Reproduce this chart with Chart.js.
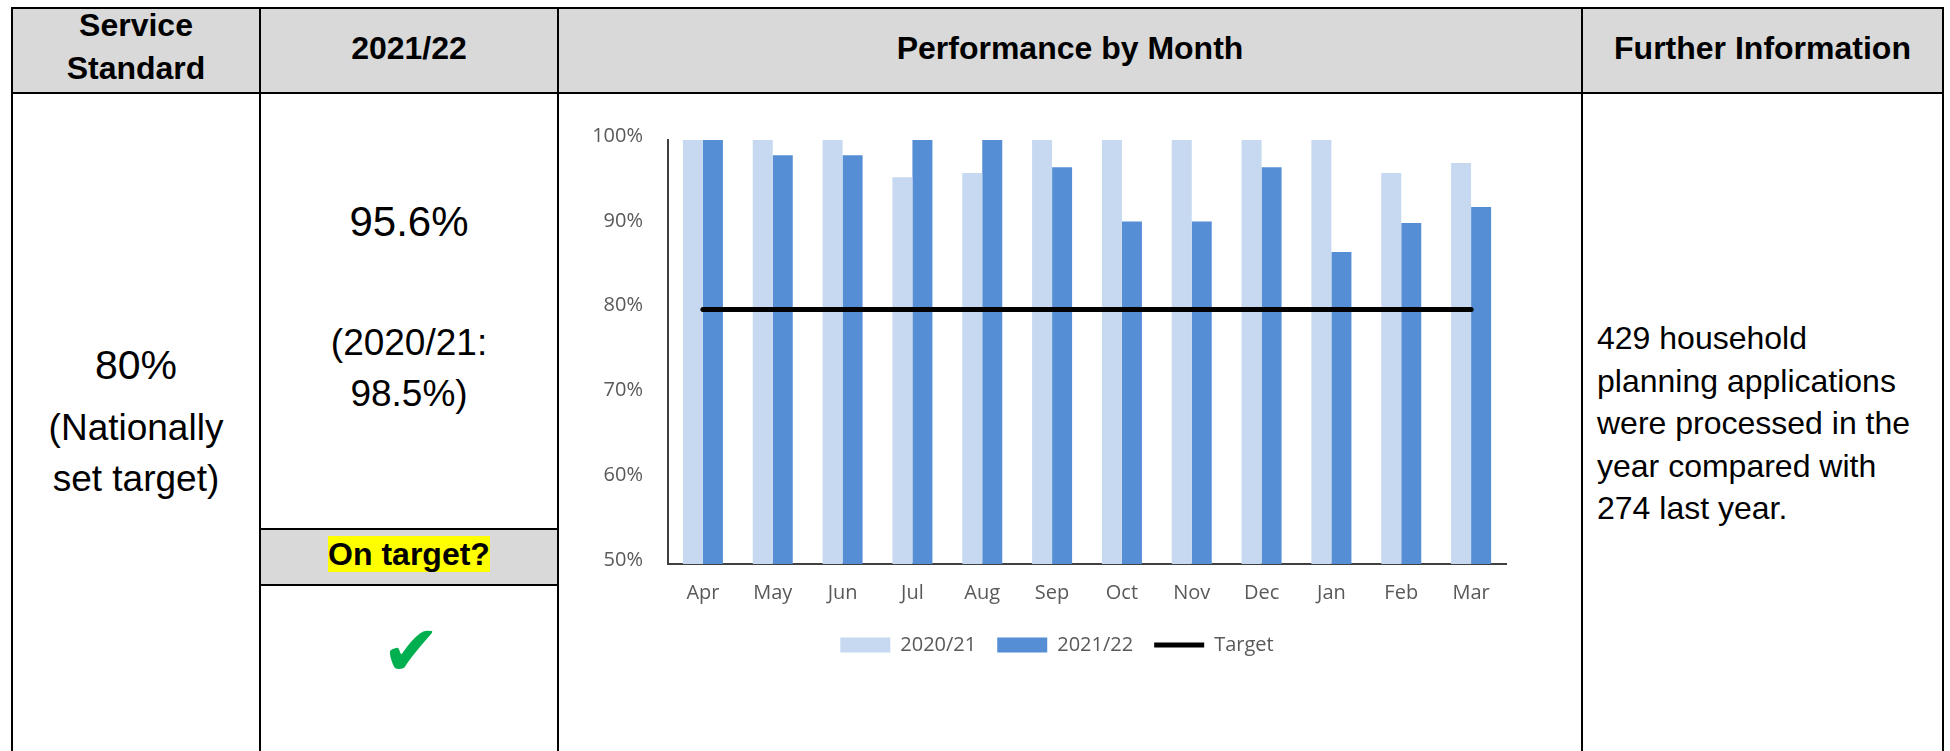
<!DOCTYPE html>
<html>
<head>
<meta charset="utf-8">
<script src="https://cdn.jsdelivr.net/npm/chart.js@4.4.1/dist/chart.umd.min.js"></script>
<style>
  html, body { margin: 0; padding: 0; background: #fff; }
  body { width: 1950px; height: 751px; position: relative; overflow: hidden;
         font-family: "Liberation Sans", Arial, sans-serif; color: #000; }
  .hline { position: absolute; height: 2px; background: #000; }
  .vline { position: absolute; width: 2px; background: #000; }
  .shade { position: absolute; background: #d9d9d9; }
  .txt { position: absolute; text-align: center; white-space: nowrap; }
  .hd { font-weight: bold; font-size: 32px; line-height: 43.3px; }
  .big { font-size: 41px; line-height: 41px; }
  .mid { font-size: 37px; line-height: 51px; }
  #chartBox { position: absolute; left: 560px; top: 95px; width: 1020px; height: 570px; }
</style>
</head>
<body>
<!-- table shading -->
<div class="shade" style="left:12px; top:8px; width:1931px; height:85px"></div>
<div class="shade" style="left:260px; top:529px; width:298px; height:56px"></div>

<!-- table rules -->
<div class="hline" style="left:11px; top:7px; width:1933px"></div>
<div class="hline" style="left:11px; top:92px; width:1933px"></div>
<div class="hline" style="left:259px; top:528px; width:300px"></div>
<div class="hline" style="left:259px; top:584px; width:300px"></div>
<div class="vline" style="left:11px; top:7px; height:744px"></div>
<div class="vline" style="left:259px; top:7px; height:744px"></div>
<div class="vline" style="left:557px; top:7px; height:744px"></div>
<div class="vline" style="left:1581px; top:7px; height:744px"></div>
<div class="vline" style="left:1942px; top:7px; height:744px"></div>

<!-- header -->
<div class="txt hd" style="left:12px; width:248px; top:4px">Service<br>Standard</div>
<div class="txt hd" style="left:260px; width:298px; top:27.3px">2021/22</div>
<div class="txt hd" style="left:558px; width:1024px; top:27.3px">Performance by Month</div>
<div class="txt hd" style="left:1582px; width:361px; top:27.3px">Further Information</div>

<!-- column 1 -->
<div class="txt big" style="left:12px; width:248px; top:345px">80%</div>
<div class="txt mid" style="left:12px; width:248px; top:401.7px">(Nationally<br>set target)</div>

<!-- column 2 -->
<div class="txt big" style="left:260px; width:298px; top:201px; font-size:42px; line-height:42px">95.6%</div>
<div class="txt mid" style="left:260px; width:298px; top:316.7px">(2020/21:<br>98.5%)</div>
<div class="txt" style="left:260px; width:298px; top:536px; font-weight:bold; font-size:32px; line-height:36px">
  <span style="background:#ffff00">On target?</span></div>
<div class="txt" style="left:262px; width:298px; top:616px; font-family:'DejaVu Sans'; font-size:70px; line-height:70px; color:#00b050">✔</div>

<!-- column 4 -->
<div class="txt" style="left:1597px; top:317.3px; text-align:left; font-size:32px; line-height:42.5px">429 household<br>planning applications<br>were processed in the<br>year compared with<br>274 last year.</div>

<!-- chart -->
<div id="chartBox"><canvas id="perf-chart" width="1020" height="570"></canvas></div>

<script>
const months = ['Apr', 'May', 'Jun', 'Jul', 'Aug', 'Sep', 'Oct', 'Nov', 'Dec', 'Jan', 'Feb', 'Mar'];
const prevYear = [100, 100, 100, 95.6, 96.1, 100, 100, 100, 100, 100, 96.1, 97.3];   // 2020/21
const thisYear = [100, 98.2, 98.2, 100, 100, 96.8, 90.4, 90.4, 96.8, 86.8, 90.2, 92.1]; // 2021/22
const target = [80, 80, 80, 80, 80, 80, 80, 80, 80, 80, 80, 80];
const yTicks = [50, 60, 70, 80, 90, 100];

const labelGrey = '#595959';
const ctx = document.getElementById('perf-chart').getContext('2d');

// nudge the legend row so it sits centred under the plot like the original
const legendShift = {
  id: 'legendShift',
  afterLayout(chart) {
    chart.legend.left += 9;
    chart.legend.right += 9;
  }
};

const chart = new Chart(ctx, {
  type: 'bar',
  data: {
    labels: months,
    datasets: [{
      label: '2020/21',
      data: prevYear,
      backgroundColor: '#c6d9f1',
      borderWidth: 0,
      pointStyle: 'rect',
      order: 1
    }, {
      label: '2021/22',
      data: thisYear,
      backgroundColor: '#558ed5',
      borderWidth: 0,
      pointStyle: 'rect',
      order: 1
    }, {
      type: 'line',
      label: 'Target',
      data: target,
      borderColor: '#000',
      backgroundColor: '#000',
      borderWidth: 5,
      borderCapStyle: 'round',
      pointRadius: 0,
      pointStyle: 'line',
      order: 0
    }]
  },
  options: {
    responsive: false,
    animation: false,
    devicePixelRatio: 1,
    categoryPercentage: 0.573,
    barPercentage: 1,
    layout: { padding: { left: 30, right: 74, top: 45, bottom: 0 } },
    font: { family: "'Open Sans'" },
    plugins: {
      tooltip: { enabled: false },
      legend: {
        position: 'bottom',
        labels: {
          usePointStyle: true,
          pointStyleWidth: 50,
          boxHeight: 15,
          padding: 21,
          color: labelGrey,
          font: { family: "'Open Sans'", size: 20 },
          sort: (a, b) => a.datasetIndex - b.datasetIndex
        }
      }
    },
    scales: {
      x: {
        grid: { display: false, drawTicks: false },
        border: { display: true, color: '#404040', width: 2 },
        ticks: { color: labelGrey, padding: 17, font: { family: "'Open Sans'", size: 20 } },
        afterFit: (s) => { s.height = 50; }
      },
      y: {
        min: 50,
        max: 100,
        grid: { display: false, drawTicks: false },
        border: { display: true, color: '#404040', width: 2 },
        ticks: {
          color: labelGrey,
          padding: 25,
          labelOffset: -4,
          font: { family: "'Open Sans'", size: 20 },
          callback: (v) => v + '%'
        },
        afterBuildTicks: (s) => { s.ticks = yTicks.map(v => ({ value: v })); },
        afterFit: (s) => { s.width = 78; }
      }
    }
  },
  plugins: [legendShift]
});
</script>
</body>
</html>
